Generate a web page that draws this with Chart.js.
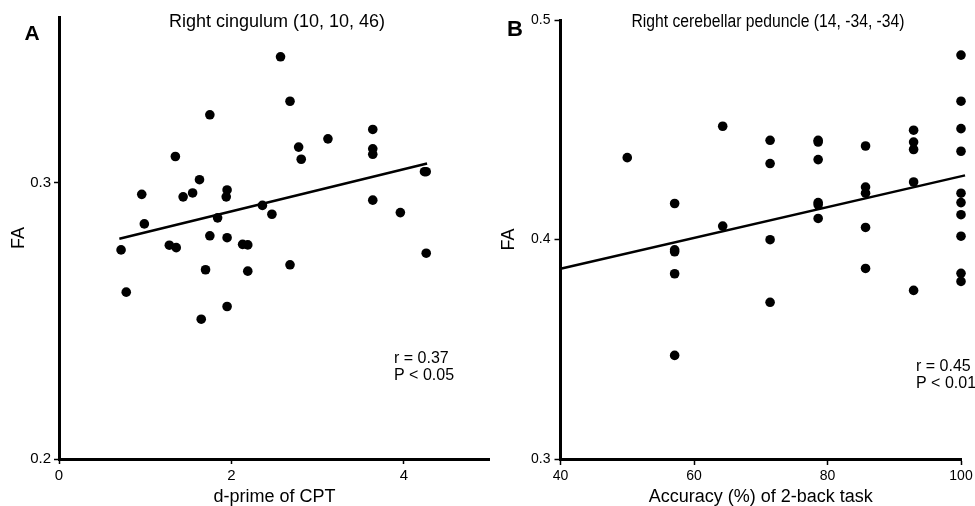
<!DOCTYPE html>
<html>
<head>
<meta charset="utf-8">
<title>FA correlations</title>
<script src="https://cdn.jsdelivr.net/npm/chart.js@4/dist/chart.umd.min.js"></script>
<style>
  html, body { margin: 0; padding: 0; background: #fff; }
  #wrap { position: relative; width: 975px; height: 506px; }
  canvas { position: absolute; top: 0; }
  #chartA { left: 0; }
  #chartB { left: 490px; }
</style>
</head>
<body>
<div id="wrap">
  <canvas id="chartA" width="490" height="506"></canvas>
  <canvas id="chartB" width="485" height="506"></canvas>
</div>
<script>
// panel A: d-prime of CPT vs FA, right cingulum
const cptX = [2.57, 2.68, 1.75, 3.64, 3.12, 2.78, 2.81, 3.64, 3.64, 1.35,
  4.24, 4.26, 1.63, 0.96, 1.44, 1.55, 1.95, 1.94, 3.64, 2.36,
  2.47, 3.96, 0.99, 1.84, 1.75, 1.95, 1.28, 1.36, 2.13, 2.19,
  0.72, 4.26, 1.70, 2.19, 2.68, 0.78, 1.95, 1.65];
const cptFA = [0.3456, 0.3295, 0.3246, 0.3193, 0.3159, 0.3129, 0.3085, 0.3123, 0.3103, 0.3095,
  0.3040, 0.3040, 0.3011, 0.2958, 0.2949, 0.2963, 0.2974, 0.2949, 0.2937, 0.2918,
  0.2886, 0.2892, 0.2851, 0.2873, 0.2808, 0.2801, 0.2774, 0.2765, 0.2777, 0.2775,
  0.2757, 0.2745, 0.2685, 0.2680, 0.2703, 0.2604, 0.2552, 0.2506];
const fitAX = [0.70, 4.27];
const fitAY = [0.2797, 0.3070];
const ticksAX = [0, 2, 4];
const ticksAY = [0.2, 0.3];

// panel B: 2-back accuracy vs FA, right cerebellar peduncle
const accX = [50,
  57.1, 57.1, 57.1, 57.1, 57.1,
  64.3, 64.3,
  71.4, 71.4, 71.4, 71.4,
  78.6, 78.6, 78.6, 78.6, 78.6, 78.6,
  85.7, 85.7, 85.7, 85.7, 85.7,
  92.9, 92.9, 92.9, 92.9, 92.9,
  100, 100, 100, 100, 100, 100, 100, 100, 100, 100];
const accFA = [0.4373,
  0.4164, 0.3953, 0.3944, 0.3844, 0.3472,
  0.4516, 0.4061,
  0.4452, 0.4346, 0.3999, 0.3714,
  0.4452, 0.4444, 0.4364, 0.4168, 0.4158, 0.4096,
  0.4426, 0.4239, 0.4211, 0.4055, 0.3868,
  0.4498, 0.4444, 0.4410, 0.4262, 0.3768,
  0.4840, 0.4630, 0.4505, 0.4402, 0.4211, 0.4168, 0.4113, 0.4015, 0.3846, 0.3809];
const fitBX = [40, 100.6];
const fitBY = [0.3867, 0.4292];
const ticksBX = [40, 60, 80, 100];
const ticksBY = [0.3, 0.4, 0.5];

const FONT = '"Liberation Sans", Arial, Helvetica, sans-serif';

// free text: panel letter, title, r / P
const notesPlugin = {
  id: 'notes',
  afterDraw(chart, args, opts) {
    const ctx = chart.ctx;
    ctx.save();
    ctx.fillStyle = '#000';
    ctx.textBaseline = 'middle';
    (opts.items || []).forEach(t => {
      ctx.font = t.font;
      ctx.textAlign = t.align || 'left';
      if (t.maxWidth) ctx.fillText(t.text, t.x, t.y, t.maxWidth);
      else ctx.fillText(t.text, t.x, t.y);
    });
    ctx.restore();
  }
};

function zip(xs, ys) {
  return xs.map((x, i) => ({ x: x, y: ys[i] }));
}

function makeChart(id, cfg) {
  const axisGrid = {
    drawOnChartArea: false,
    drawTicks: true,
    tickLength: cfg.tickLen,
    tickWidth: 1.5,
    color: '#000',
    tickColor: '#000'
  };
  return new Chart(document.getElementById(id), {
    type: 'scatter',
    data: {
      datasets: [
        {
          data: zip(cfg.xs, cfg.ys),
          backgroundColor: '#000',
          borderColor: '#000',
          pointRadius: 4.8,
          pointHoverRadius: 4.8,
          borderWidth: 0,
          clip: false
        },
        {
          type: 'line',
          data: zip(cfg.fitX, cfg.fitY),
          borderColor: '#000',
          borderWidth: 2.5,
          pointRadius: 0,
          fill: false,
          clip: false
        }
      ]
    },
    options: {
      responsive: false,
      animation: false,
      events: [],
      layout: {
        autoPadding: false,
        padding: { top: cfg.top, right: cfg.right, left: 0, bottom: 0 }
      },
      plugins: {
        legend: { display: false },
        tooltip: { enabled: false },
        notes: { items: cfg.notes }
      },
      scales: {
        x: {
          type: 'linear',
          min: cfg.xMin,
          max: cfg.xMax,
          afterBuildTicks: s => { s.ticks = cfg.xTicks.map(v => ({ value: v })); },
          afterFit: s => { s.height = 47; s.paddingLeft = 0; s.paddingRight = 0; },
          grid: axisGrid,
          border: { display: true, width: 3, color: '#000' },
          ticks: {
            color: '#000',
            padding: 3,
            maxRotation: 0,
            font: { family: FONT, size: cfg.tickSize },
            callback: v => String(v)
          },
          title: {
            display: true,
            text: cfg.xTitle,
            color: '#000',
            font: { family: FONT, size: 18, lineHeight: 1 },
            padding: { top: 0, bottom: 0 }
          }
        },
        y: {
          type: 'linear',
          min: cfg.yMin,
          max: cfg.yMax,
          afterBuildTicks: s => { s.ticks = cfg.yTicks.map(v => ({ value: v })); },
          afterFit: s => { s.width = cfg.yWidth; s.paddingTop = 0; s.paddingBottom = 0; },
          grid: axisGrid,
          border: { display: true, width: 3, color: '#000' },
          ticks: {
            color: '#000',
            padding: cfg.yPad,
            font: { family: FONT, size: cfg.tickSize },
            callback: v => String(v)
          },
          title: {
            display: true,
            text: 'FA',
            color: '#000',
            font: { family: FONT, size: 18, lineHeight: 1.2 },
            padding: { top: 8, bottom: 0 }
          }
        }
      }
    },
    plugins: [notesPlugin]
  });
}

makeChart('chartA', {
  xs: cptX, ys: cptFA, fitX: fitAX, fitY: fitAY,
  xMin: 0, xMax: 5, yMin: 0.2, yMax: 0.36,
  xTicks: ticksAX, yTicks: ticksAY,
  xTitle: 'd-prime of CPT',
  top: 17, right: 0, yWidth: 59, tickLen: 5, yPad: 3, tickSize: 15,
  notes: [
    { text: 'A', x: 32, y: 34, align: 'center', font: 'bold 21px ' + FONT },
    { text: 'Right cingulum (10, 10, 46)', x: 277, y: 22, align: 'center', font: '18px ' + FONT },
    { text: 'r = 0.37', x: 394, y: 359, font: '16px ' + FONT },
    { text: 'P < 0.05', x: 394, y: 376, font: '16px ' + FONT }
  ]
});

makeChart('chartB', {
  xs: accX, ys: accFA, fitX: fitBX, fitY: fitBY,
  xMin: 40, xMax: 100, yMin: 0.3, yMax: 0.5,
  xTicks: ticksBX, yTicks: ticksBY,
  xTitle: 'Accuracy (%) of 2-back task',
  top: 20, right: 14, yWidth: 70.5, tickLen: 6, yPad: 4, tickSize: 14,
  notes: [
    { text: 'B', x: 25, y: 30, align: 'center', font: 'bold 22px ' + FONT },
    { text: 'Right cerebellar peduncle (14, -34, -34)', x: 278, y: 22, align: 'center', font: '18px ' + FONT, maxWidth: 273 },
    { text: 'r = 0.45', x: 426, y: 367, font: '16px ' + FONT },
    { text: 'P < 0.01', x: 426, y: 384, font: '16px ' + FONT }
  ]
});
</script>
</body>
</html>
